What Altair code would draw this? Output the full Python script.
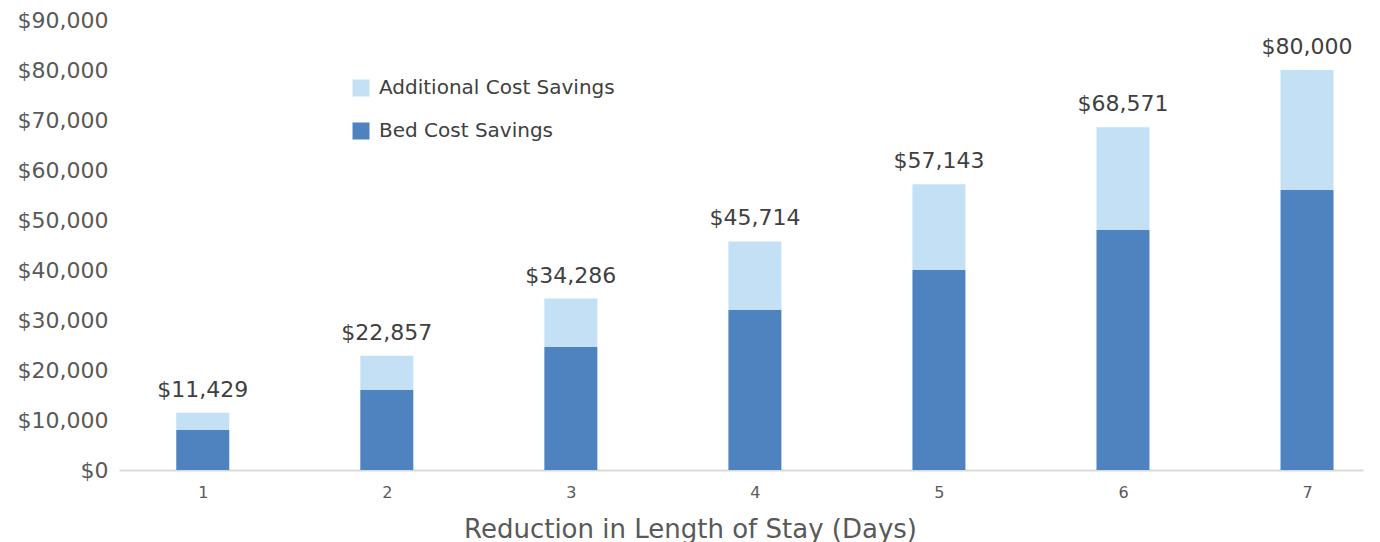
import altair as alt
import pandas as pd

days = [1, 2, 3, 4, 5, 6, 7]
bed_savings = [8000, 16000, 24600, 32000, 40000, 48000, 56000]
additional_savings = [3429, 6857, 9686, 13714, 17143, 20571, 24000]
totals = [11429, 22857, 34286, 45714, 57143, 68571, 80000]
total_labels = ["$11,429", "$22,857", "$34,286", "$45,714", "$57,143", "$68,571", "$80,000"]
series_names = ["Additional Cost Savings", "Bed Cost Savings"]
series_colors = ["#C3E0F4", "#4F83C0"]
y_ticks = [0, 10000, 20000, 30000, 40000, 50000, 60000, 70000, 80000, 90000]

rows = []
for d, b, a in zip(days, bed_savings, additional_savings):
    rows.append({"day": d, "series": "Bed Cost Savings", "value": b, "stack": 0})
    rows.append({"day": d, "series": "Additional Cost Savings", "value": a, "stack": 1})
df = pd.DataFrame(rows)
tot = pd.DataFrame({"day": days, "total": totals, "label": total_labels})

FONT = "DejaVu Sans"
xscale = alt.Scale(domain=[0.572, 7.277], nice=False, zero=False)
yscale = alt.Scale(domain=[0, 90000], nice=False)

bars = alt.Chart(df).mark_bar(size=53).encode(
    x=alt.X("day:Q", scale=xscale,
            axis=alt.Axis(values=days, format="d", title="Reduction in Length of Stay (Days)",
                          ticks=False, grid=False, domainColor="#D9D9D9", domainWidth=2,
                          labelFontSize=16, labelColor="#595959", labelPadding=14,
                          labelFont=FONT, titleFont=FONT, titleFontSize=26,
                          titleFontWeight="normal", titleColor="#595959",
                          titleX=571, titleY=67, titleAlign="center",
                          titleBaseline="alphabetic")),
    y=alt.Y("value:Q", stack="zero", scale=yscale,
            axis=alt.Axis(values=y_ticks, format="$,.0f", title=None, domain=False,
                          ticks=False, grid=False, labelFontSize=22, labelColor="#595959",
                          labelFont=FONT, labelPadding=11)),
    color=alt.Color("series:N",
                    scale=alt.Scale(domain=series_names, range=series_colors),
                    legend=alt.Legend(title=None, orient="none", legendX=232, legendY=58,
                                      symbolType="square", symbolSize=289,
                                      symbolStrokeWidth=0, labelFontSize=20,
                                      labelColor="#404040", labelFont=FONT,
                                      labelLimit=0, rowPadding=23, labelOffset=8)),
    order=alt.Order("stack:Q", sort="ascending"),
)

labels = alt.Chart(tot).mark_text(fontSize=22, color="#404040", font=FONT,
                                  baseline="middle", dy=-23).encode(
    x=alt.X("day:Q", scale=xscale),
    y=alt.Y("total:Q", scale=yscale),
    text="label:N",
)

chart = alt.layer(bars, labels).properties(
    width=1244, height=450,
    autosize=alt.AutoSizeParams(type="none"),
    padding={"left": 111, "top": 12, "right": 9, "bottom": 72},
    background="white",
).configure_view(stroke=None)

chart.save("out.html", embed_options={"renderer": "svg", "actions": False})
